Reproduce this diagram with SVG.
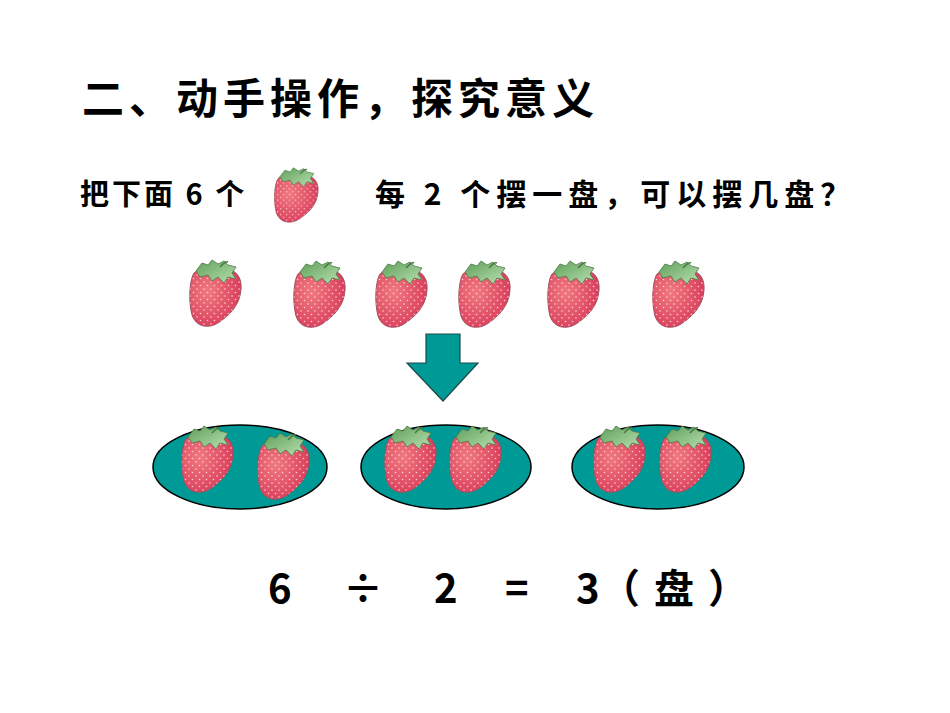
<svg xmlns="http://www.w3.org/2000/svg" width="950" height="713" viewBox="0 0 950 713">
<style>
.t{font-family:"Noto Sans CJK SC","Liberation Sans",sans-serif;fill:#000;font-weight:bold}
.plate{fill:#009a96;stroke:#000;stroke-width:1.5}
</style>
<defs>
<radialGradient id="rg" cx="0.35" cy="0.4" r="0.7"><stop offset="0" stop-color="#f07a80"/><stop offset="1" stop-color="#d83a5a"/></radialGradient>
<linearGradient id="lg" x1="0" y1="0" x2="1" y2="1"><stop offset="0" stop-color="#5f9f5a"/><stop offset="1" stop-color="#b8e0b0"/></linearGradient>
<pattern id="dots" width="7" height="7" patternUnits="userSpaceOnUse"><circle cx="2" cy="2" r="0.8" fill="#ffd0d0"/><circle cx="5.5" cy="5.5" r="0.8" fill="#ffd0d0"/></pattern>
<g id="sb">
<path d="M6 14 C2 20 0 40 4 56 C8 68 20 70 30 64 C42 56 52 46 53 30 C54 18 48 12 40 10 C28 8 12 8 6 14 Z" fill="url(#rg)" stroke="#a05060" stroke-width="1"/>
<path d="M6 14 C2 20 0 40 4 56 C8 68 20 70 30 64 C42 56 52 46 53 30 C54 18 48 12 40 10 C28 8 12 8 6 14 Z" fill="url(#dots)"/>
<path d="M8 12 L14 4 L20 6 L24 1 L30 5 L36 2 L40 6 L48 8 L44 14 L48 20 L40 18 L36 24 L30 18 L24 22 L20 16 L12 18 Z" fill="url(#lg)" stroke="#4a7a44" stroke-width="0.8"/>
<path d="M32 8 C36 4 38 2 40 3" fill="none" stroke="#4a7a44" stroke-width="1.5"/>
</g>
</defs>
<text class="t" x="82" y="114" font-size="42" letter-spacing="5">二、动手操作，探究意义</text>
<text class="t" x="80" y="205" font-size="29" letter-spacing="3">把下面 6 个</text>
<g id="sb-small"><use href="#sb" transform="translate(273,167) scale(0.85,0.82)"/></g>
<text class="t" x="375" y="205" font-size="30" letter-spacing="6">每 2 个摆一盘，可以摆几盘？</text>
<g id="row">
<use href="#sb" x="188" y="259"/>
<use href="#sb" x="292" y="260"/>
<use href="#sb" x="374" y="260"/>
<use href="#sb" x="457" y="260"/>
<use href="#sb" x="546" y="260"/>
<use href="#sb" x="651" y="260"/>
</g>
<g id="arrow"><path d="M426 334 H460 V363 H478 L443 401 L407 363 H426 Z" fill="#009a96" stroke="#1a4a4a" stroke-width="1.2"/></g>
<g id="plate1"><ellipse class="plate" cx="240" cy="467" rx="87" ry="42"/><use href="#sb" x="180" y="425"/><use href="#sb" x="256" y="432"/></g>
<g id="plate2"><ellipse class="plate" cx="446" cy="467" rx="85" ry="42"/><use href="#sb" x="383" y="425"/><use href="#sb" x="448" y="425"/></g>
<g id="plate3"><ellipse class="plate" cx="658" cy="467" rx="86" ry="42"/><use href="#sb" x="592" y="425"/><use href="#sb" x="658" y="425"/></g>
<g font-size="40">
<text class="t" x="268" y="603">6</text>
<text class="t" x="343" y="603">÷</text>
<text class="t" x="434" y="603">2</text>
<text class="t" x="505" y="603">=</text>
<text class="t" x="576" y="603">3</text>
<text class="t" x="600" y="603" letter-spacing="14">（盘）</text>
</g>
</svg>
